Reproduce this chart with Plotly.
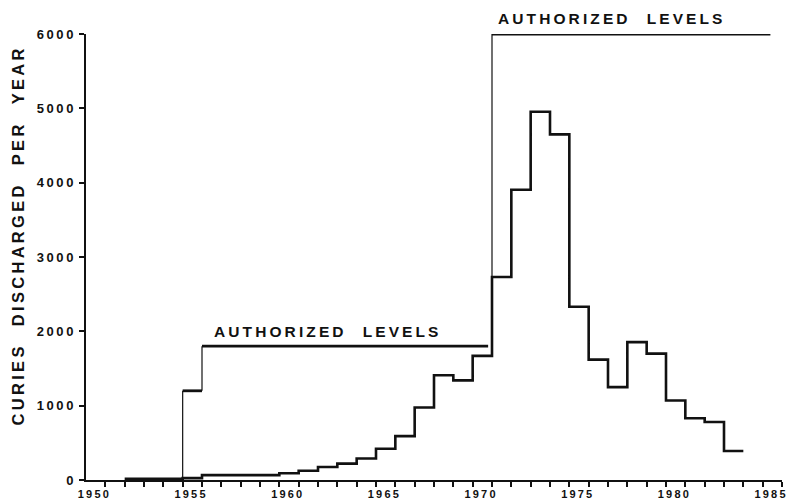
import plotly.graph_objects as go

# ---------------- data ----------------
disc_years = list(range(1951, 1983))
disc_values = [15, 15, 15, 25, 65, 65, 65, 65, 90, 125, 175, 220, 290, 420,
               590, 975, 1410, 1340, 1670, 2730, 3905, 4955, 4650, 2330,
               1620, 1250, 1855, 1700, 1070, 830, 780, 390]

auth_start = [1954, 1955, 1970]
auth_end = [1955, 1969.8, 1984.4]
auth_level = [1200, 1800, 6000]

x_tick_years = list(range(1950, 1986))
x_tick_labels = ["1950", "1955", "1960", "1965", "1970", "1975", "1980", "1985"]
y_tick_vals = [0, 1000, 2000, 3000, 4000, 5000, 6000]
y_tick_labels = ["0", "1000", "2000", "3000", "4000", "5000", "6000"]

y_title = "CURIES DISCHARGED PER YEAR"
auth_label = "AUTHORIZED LEVELS"

INK = "#111111"
FONT = "Liberation Sans"


def spaced(s, sep="\u2009", word="\u00a0\u00a0\u00a0"):
    words = s.split(" ")
    return (sep + word + sep).join(sep.join(w) for w in words)


fig = go.Figure()

# discharge step line
sx = disc_years + [disc_years[-1] + 1]
sy = disc_values + [disc_values[-1]]
fig.add_trace(go.Scatter(x=sx, y=sy, mode="lines", line_shape="hv",
                         line=dict(color=INK, width=2.6), cliponaxis=False,
                         showlegend=False, hoverinfo="skip"))

# authorized levels: thick horizontals
hx, hy = [], []
for s, e, v in zip(auth_start, auth_end, auth_level):
    hx += [s, e, None]
    hy += [v, v, None]
fig.add_trace(go.Scatter(x=hx, y=hy, mode="lines",
                         line=dict(color=INK, width=2.8), cliponaxis=False,
                         showlegend=False, hoverinfo="skip"))

# authorized levels: thin verticals
vx, vy = [], []
prev = 0
for s, v in zip(auth_start, auth_level):
    vx += [s, s, None]
    vy += [prev, v, None]
    prev = v
fig.add_trace(go.Scatter(x=vx, y=vy, mode="lines",
                         line=dict(color=INK, width=1.2), cliponaxis=False,
                         showlegend=False, hoverinfo="skip"))

x_ticktext = [str(y) if str(y) in x_tick_labels else "" for y in x_tick_years]
x_ticktext = [spaced(t) if t else "" for t in x_ticktext]
y_ticktext = [spaced(t) for t in y_tick_labels]

fig.update_layout(
    width=787, height=502,
    margin=dict(l=86, r=5, t=34, b=22),
    paper_bgcolor="white", plot_bgcolor="white",
    font=dict(family=FONT, color=INK),
    xaxis=dict(range=[1949, 1985], tickmode="array", tickvals=x_tick_years,
               ticktext=x_ticktext, ticks="outside", ticklen=5, tickwidth=1.5,
               tickcolor=INK, showline=True, linecolor=INK, linewidth=2,
               showgrid=False, zeroline=False, ticklabelshift=-12,
               ticklabelstandoff=-2, automargin=False,
               ticklabeloverflow="allow",
               tickfont=dict(size=11, family=FONT, weight="bold", color=INK)),
    yaxis=dict(range=[0, 6000], tickmode="array", tickvals=y_tick_vals,
               ticktext=y_ticktext, ticks="outside", ticklen=5, tickwidth=1.5,
               tickcolor=INK, showline=True, linecolor=INK, linewidth=2,
               showgrid=False, zeroline=False, ticklabelstandoff=3,
               automargin=False, ticklabeloverflow="allow",
               tickfont=dict(size=13, family=FONT, weight="bold", color=INK)),
)

fig.add_annotation(text=spaced(y_title), xref="paper", yref="paper",
                   x=-0.0984, y=0.545, textangle=-90, showarrow=False,
                   xanchor="center", yanchor="middle",
                   font=dict(size=16.5, family=FONT, weight="bold", color=INK))

fig.add_annotation(text=spaced(auth_label), x=1961.4, y=1800, yshift=15,
                   showarrow=False, xanchor="center", yanchor="middle",
                   font=dict(size=15.5, family=FONT, weight="bold", color=INK))
fig.add_annotation(text=spaced(auth_label), x=1976.1, y=6000, yshift=16,
                   showarrow=False, xanchor="center", yanchor="middle",
                   font=dict(size=15.5, family=FONT, weight="bold", color=INK))

fig.write_html(
    "out.html",
    config={"displayModeBar": False},
    post_script=("document.body.style.margin='0';"
                 "document.body.style.padding='0';"
                 "document.documentElement.style.overflow='hidden';"),
)
